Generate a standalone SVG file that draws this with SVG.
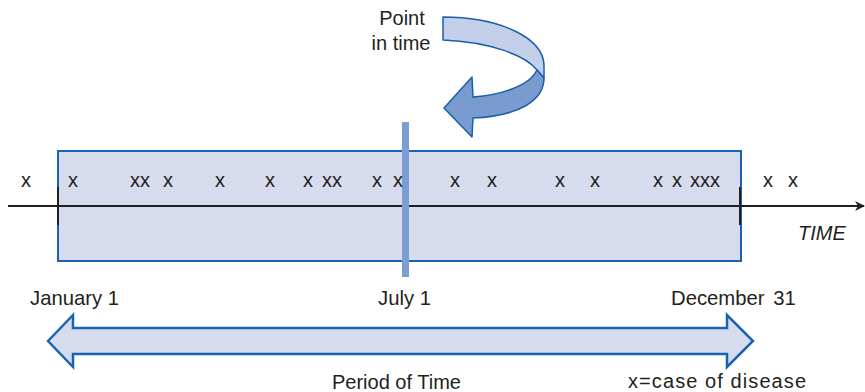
<svg xmlns="http://www.w3.org/2000/svg" width="865" height="392" viewBox="0 0 865 392">
<defs>
<style>
text{font-family:"Liberation Sans",Arial,sans-serif;fill:#231f20;font-size:20px}
.lbl{font-size:20.3px}
.it{font-style:italic}
.band{stroke:#1a5fa8;stroke-width:1.5;stroke-linejoin:round}
.ax{stroke:#231f20;stroke-width:2;fill:none}
</style>
<marker id="ah" markerWidth="10" markerHeight="10" refX="9" refY="5" orient="auto" markerUnits="userSpaceOnUse">
<path d="M0,0 L10,5 L0,10 L3,5 Z" fill="#231f20"/>
</marker>
</defs>
<rect width="865" height="392" fill="#ffffff"/>
<g id="period-box">
<rect x="58" y="151" width="683" height="110" fill="#d6dcee" stroke="#1a63b0" stroke-width="2"/>
</g>
<g id="connectors">
<line class="ax" x1="8" y1="206" x2="864" y2="206" marker-end="url(#ah)"/>
<line class="ax" x1="58" y1="187" x2="58" y2="225"/>
<line class="ax" x1="740" y1="187" x2="740" y2="225"/>
</g>
<g id="point-bar">
<rect x="402" y="122" width="7" height="155" fill="#7b9fd3"/>
</g>
<g id="cases">
<text x="21" y="187">x</text>
<text x="68" y="187">x</text>
<text x="130" y="187">xx</text>
<text x="163" y="187">x</text>
<text x="215" y="187">x</text>
<text x="265" y="187">x</text>
<text x="303" y="187">x</text>
<text x="322" y="187">xx</text>
<text x="372" y="187">x</text>
<text x="393" y="187">x</text>
<text x="450" y="187">x</text>
<text x="487" y="187">x</text>
<text x="555" y="187">x</text>
<text x="590" y="187">x</text>
<text x="653" y="187">x</text>
<text x="672" y="187">x</text>
<text x="690" y="187">xxx</text>
<text x="763" y="187">x</text>
<text x="788" y="187">x</text>
</g>
<g id="time-label">
<text class="it" x="798" y="240">TIME</text>
</g>
<g id="point-in-time">
<path class="band" fill="#c3cfe8" d="M443,17 C500,17 544,38 544,66 L544,78 L537,70 C525,55 490,42 443,40 Z"/>
<path class="band" fill="#7a9bd0" d="M537,70 L544,78 C544,100 520,116 473,118 L472,137 L444,108 L472,77 L473,97 C510,94 532,82 537,70 Z"/>
<text x="402" y="25" text-anchor="middle" font-size="21">Point</text>
<text x="401" y="50" text-anchor="middle" font-size="21">in time</text>
</g>
<g id="date-labels">
<text class="lbl" x="30" y="305">January 1</text>
<text class="lbl" x="378" y="305">July 1</text>
<text class="lbl" x="671" y="305" style="word-spacing:3px">December 31</text>
</g>
<g id="period-arrow">
<path d="M48,341 L73,315 L73,328 L727,328 L727,315 L753,341 L727,367 L727,354 L73,354 L73,367 Z" fill="#d6dcee" stroke="#1a63b0" stroke-width="2.5" stroke-linejoin="miter"/>
<text x="332" y="389" font-size="20.7">Period of Time</text>
</g>
<g id="legend">
<text x="628" y="388" font-size="20.7" textLength="178" lengthAdjust="spacing">x=case of disease</text>
</g>
</svg>
